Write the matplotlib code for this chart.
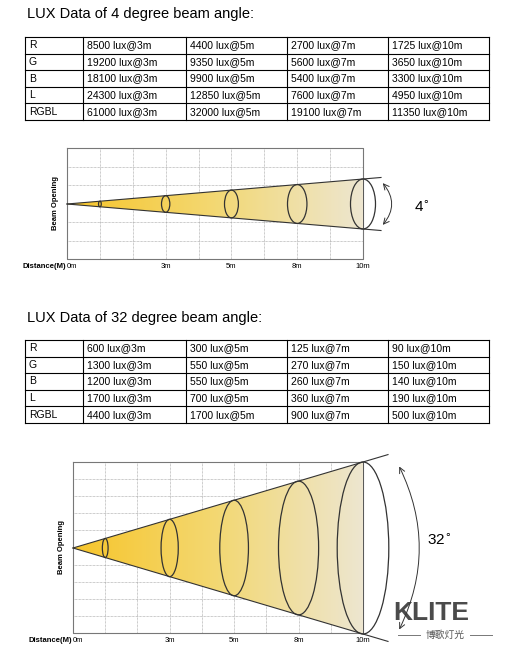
import matplotlib
matplotlib.use("Agg")
import matplotlib.pyplot as plt
import numpy as np
from matplotlib.patches import Polygon, Ellipse, FancyArrowPatch
from matplotlib.colors import LinearSegmentedColormap

plt.rcParams['font.family'] = ['Liberation Sans', 'DejaVu Sans']

rows = ["R", "G", "B", "L", "RGBL"]
t4 = [["8500 lux@3m", "4400 lux@5m", "2700 lux@7m", "1725 lux@10m"],
      ["19200 lux@3m", "9350 lux@5m", "5600 lux@7m", "3650 lux@10m"],
      ["18100 lux@3m", "9900 lux@5m", "5400 lux@7m", "3300 lux@10m"],
      ["24300 lux@3m", "12850 lux@5m", "7600 lux@7m", "4950 lux@10m"],
      ["61000 lux@3m", "32000 lux@5m", "19100 lux@7m", "11350 lux@10m"]]
t32 = [["600 lux@3m", "300 lux@5m", "125 lux@7m", "90 lux@10m"],
       ["1300 lux@3m", "550 lux@5m", "270 lux@7m", "150 lux@10m"],
       ["1200 lux@3m", "550 lux@5m", "260 lux@7m", "140 lux@10m"],
       ["1700 lux@3m", "700 lux@5m", "360 lux@7m", "190 lux@10m"],
       ["4400 lux@3m", "1700 lux@5m", "900 lux@7m", "500 lux@10m"]]
dist_labels = ["0m", "3m", "5m", "8m", "10m"]
dist_cols = [0, 3, 5, 7, 9]
ring_cols = [1, 3, 5, 7, 9]

fig = plt.figure(figsize=(5.09, 6.51), dpi=100)
ax = fig.add_axes([0, 0, 1, 1])
ax.set_xlim(0, 509); ax.set_ylim(651, 0); ax.axis('off')

def table(title, ty, top, data):
    ax.text(27, ty, title, fontsize=10.5, va='center', ha='left')
    xs = [25, 83, 186, 287, 388, 489]
    h = 16.6
    for i in range(6):
        ax.plot([25, 489], [top + i*h]*2, color='k', lw=0.8)
    for x in xs:
        ax.plot([x, x], [top, top + 5*h], color='k', lw=0.8)
    for r in range(5):
        yc = top + (r + 0.5)*h
        ax.text(29, yc, rows[r], fontsize=7.5, va='center')
        for c in range(4):
            ax.text(xs[c+1] + 4, yc, data[r][c], fontsize=7.5, va='center')

table("LUX Data of 4 degree beam angle:", 14, 37, t4)
table("LUX Data of 32 degree beam angle:", 318, 340, t32)

def beam(x0, x1, y0, y1, nrows, apex, half, ext, arcx, rad, label, lx, ly, ratio):
    ncol = 9
    cw = (x1 - x0)/ncol
    for i in range(1, ncol):
        ax.plot([x0 + i*cw]*2, [y0, y1], color='#999', lw=0.5, ls=(0, (1, 1)))
    for j in range(1, nrows):
        yy = y0 + j*(y1 - y0)/nrows
        ax.plot([x0, x1], [yy]*2, color='#999', lw=0.5, ls=(0, (1, 1)))
    ax.plot([x0, x0, x1, x1, x0], [y0, y1, y1, y0, y0], color='#777', lw=0.8)
    poly = Polygon([[x0, apex], [x1, apex - half], [x1, apex + half]], closed=True,
                   facecolor='none', edgecolor='none')
    ax.add_patch(poly)
    grad = np.linspace(0, 1, 256)[None, :]
    cm = LinearSegmentedColormap.from_list('b', ['#f7c52a', '#f3d873', '#ede6d0'])
    im = ax.imshow(grad, extent=[x0, x1, apex + half, apex - half], cmap=cm,
                   aspect='auto', zorder=2)
    im.set_clip_path(poly)
    xe = x1 + ext
    he = half * (xe - x0)/(x1 - x0)
    ax.plot([x0, xe], [apex, apex - he], color='#333', lw=0.8, zorder=3)
    ax.plot([x0, xe], [apex, apex + he], color='#333', lw=0.8, zorder=3)
    for c in ring_cols:
        xc = x0 + c*cw
        hh = half*(xc - x0)/(x1 - x0)
        ax.add_patch(Ellipse((xc, apex), 2*hh*ratio, 2*hh, fill=False, ec='#333', lw=0.9, zorder=4))
    ax.plot([x1, x1], [apex - half, apex + half], color='#555', lw=0.6, zorder=3)
    arr = FancyArrowPatch((arcx, apex - half + 2), (arcx, apex + half - 2),
                          connectionstyle=f"arc3,rad={rad}", arrowstyle='<->,head_length=4,head_width=2',
                          color='#333', lw=0.7, zorder=4)
    ax.add_patch(arr)
    ax.text(lx, ly, label, fontsize=11, va='center', ha='left')
    ax.text((x0 - 8), y0 + (y1 - y0)/2, "Beam Opening", rotation=90, fontsize=5.5,
            fontweight='bold', ha='right', va='center')
    ax.text(x0 - 1, y1 + 7, "Distance(M)", fontsize=5.5, fontweight='bold', ha='right', va='center')
    for lab, c in zip(dist_labels, dist_cols):
        xc = x0 + c*cw
        ax.text(xc + (5 if c == 0 else 0), y1 + 7, lab, fontsize=5.5, ha='center', va='center')

beam(67, 363, 148, 259, 6, 204, 25, 18, 381, -0.45, "4$^{\\circ}$", 414, 207, 0.5)
beam(73, 363, 462, 633, 10, 548, 86, 25, 398, -0.25, "32$^{\\circ}$", 427, 540, 0.3)

# logo
ax.text(393, 613, "KLITE", fontsize=19, fontweight='bold', color='#4b4b4b', va='center', ha='left')
ax.text(445, 635, "博歌灯光", fontsize=7, color='#555', va='center', ha='center',
        family=['Noto Sans CJK SC'])
ax.plot([398, 420], [635, 635], color='#777', lw=0.7)
ax.plot([470, 492], [635, 635], color='#777', lw=0.7)

fig.savefig("out.png", dpi=100)
